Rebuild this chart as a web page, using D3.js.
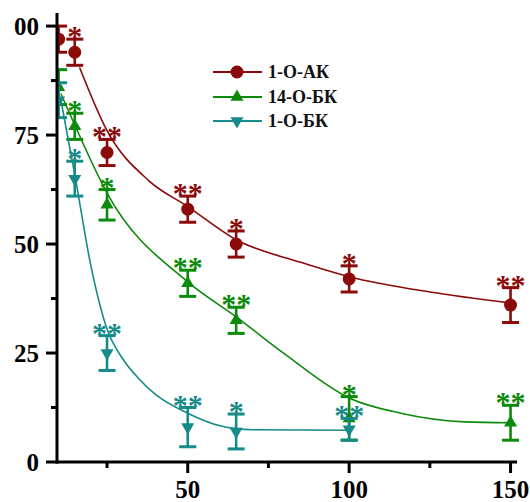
<!DOCTYPE html>
<html>
<head>
<meta charset="utf-8">
<script src="https://cdn.jsdelivr.net/npm/d3@7"></script>
<style>
  html, body { margin: 0; padding: 0; background: #fff; }
  svg { display: block; }
</style>
</head>
<body>
<svg id="chart" width="530" height="502"></svg>
<script>
// Concentrations (x) and survival values (y, %) with SD and significance marks
const doses = [10, 15, 25, 50, 65, 100, 150];

const akMean  = [97, 94, 71, 58, 50, 42, 36];
const akErr   = [3, 3, 3, 3, 3, 3, 4];
const akStars = ["", "*", "**", "**", "*", "*", "**"];

const bk14Mean  = [86, 77, 59, 41, 32.5, 10, 9];
const bk14Err   = [4, 3, 3.5, 3, 3, 5, 4];
const bk14Stars = ["", "*", "*", "**", "**", "*", "**"];

const bk1Doses = [10, 15, 25, 50, 65, 100];
const bk1Mean  = [83, 65, 25, 8, 7, 7.5];
const bk1Err   = [4, 4, 4, 4.5, 4, 2.5];
const bk1Stars = ["", "*", "**", "**", "*", "**"];

// Fitted decay curves (knots along each fit line)
const akFitX   = [16.5, 25, 38, 50, 65, 85, 100, 125, 150];
const akFitY   = [90.5, 76, 64.5, 58.6, 51, 45.8, 42.5, 39, 36.5];
const bk14FitX = [10.7, 15, 25, 50, 65, 80, 100, 116, 136, 150];
const bk14FitY = [84.5, 77.3, 61.7, 41.3, 33.3, 24.8, 14.7, 11.2, 9.2, 9.0];
const bk1FitX  = [10.7, 15, 20, 25, 30, 35, 40, 50, 60, 70, 100];
const bk1FitY  = [83, 66, 45, 30.5, 23.5, 19, 15.5, 11.2, 8.3, 7.4, 7.3];

const seriesNames = ["1-О-АК", "14-О-БК", "1-О-БК"];
const seriesColors = ["#8b0a0a", "#0b8a0b", "#178a8a"];

const xMajor = [50, 100, 150];
const xMinor = [25, 75, 125];
const yMajor = [0, 25, 50, 75, 100];
const yMinor = [12.5, 37.5, 62.5, 87.5];

const series = [
  { name: seriesNames[0], color: seriesColors[0], shape: "circle", xs: doses,    ys: akMean,   es: akErr,   stars: akStars,   fx: akFitX,   fy: akFitY },
  { name: seriesNames[1], color: seriesColors[1], shape: "up",     xs: doses,    ys: bk14Mean, es: bk14Err, stars: bk14Stars, fx: bk14FitX, fy: bk14FitY },
  { name: seriesNames[2], color: seriesColors[2], shape: "down",   xs: bk1Doses, ys: bk1Mean,  es: bk1Err,  stars: bk1Stars,  fx: bk1FitX,  fy: bk1FitY }
];

const svg = d3.select("#chart");
const x = d3.scaleLinear().domain([9.5, 152]).range([57, 517]);
const y = d3.scaleLinear().domain([0, 103]).range([462, 13]);
const serif = "'Liberation Serif', 'Times New Roman', serif";

const defs = svg.append("defs");
defs.append("clipPath").attr("id", "plotClip")
  .append("rect").attr("x", 57).attr("y", 0).attr("width", 473).attr("height", 462);
defs.append("clipPath").attr("id", "labelClip")
  .append("rect").attr("x", 13).attr("y", 0).attr("width", 60).attr("height", 502);

const triSize = 74;
function markerPath(shape) {
  if (shape === "circle") return d3.symbol(d3.symbolCircle, 132)();
  return d3.symbol(d3.symbolTriangle, triSize)();
}

const plot = svg.append("g").attr("clip-path", "url(#plotClip)");

series.forEach(s => {
  const g = plot.append("g");
  // fit line
  const line = d3.line().x(d => x(d[0])).y(d => y(d[1])).curve(d3.curveMonotoneX);
  g.append("path")
    .datum(s.fx.map((v, i) => [v, s.fy[i]]))
    .attr("d", line)
    .attr("fill", "none")
    .attr("stroke", s.color)
    .attr("stroke-width", 1.6);

  const pts = s.xs.map((v, i) => ({ x: v, y: s.ys[i], e: s.es[i], star: s.stars[i] }));

  // error bars
  const capW = 8.5;
  pts.forEach(p => {
    const cx = x(p.x), y1 = y(p.y + p.e), y0 = y(p.y - p.e);
    g.append("line").attr("x1", cx).attr("x2", cx).attr("y1", y1).attr("y2", y0)
      .attr("stroke", s.color).attr("stroke-width", 2.6);
    [y1, y0].forEach(yy => g.append("line")
      .attr("x1", cx - capW).attr("x2", cx + capW).attr("y1", yy).attr("y2", yy)
      .attr("stroke", s.color).attr("stroke-width", 3));
  });

  // markers
  g.selectAll("path.m").data(pts).join("path")
    .attr("class", "m")
    .attr("d", markerPath(s.shape))
    .attr("transform", d => `translate(${x(d.x)},${y(d.y)})` + (s.shape === "down" ? " rotate(180)" : ""))
    .attr("fill", s.color);

  // significance marks
  g.selectAll("text.star").data(pts.filter(p => p.star)).join("text")
    .attr("class", "star")
    .attr("x", d => x(d.x))
    .attr("y", d => y(d.y + d.e) + 7)
    .attr("text-anchor", "middle")
    .attr("font-family", serif)
    .attr("font-weight", "bold")
    .attr("font-size", 30)
    .attr("fill", s.color)
    .text(d => d.star);
});

// axes
const axes = svg.append("g").attr("stroke", "#000");
axes.append("line").attr("x1", 57).attr("x2", 57).attr("y1", 13).attr("y2", 463.5).attr("stroke-width", 3);
axes.append("line").attr("x1", 55.5).attr("x2", 517).attr("y1", 462).attr("y2", 462).attr("stroke-width", 3);
yMajor.forEach(v => axes.append("line").attr("x1", 46).attr("x2", 57).attr("y1", y(v)).attr("y2", y(v)).attr("stroke-width", 3));
yMinor.forEach(v => axes.append("line").attr("x1", 51).attr("x2", 57).attr("y1", y(v)).attr("y2", y(v)).attr("stroke-width", 3));
xMajor.forEach(v => axes.append("line").attr("x1", x(v)).attr("x2", x(v)).attr("y1", 462).attr("y2", 473).attr("stroke-width", 3));
xMinor.forEach(v => axes.append("line").attr("x1", x(v)).attr("x2", x(v)).attr("y1", 462).attr("y2", 468).attr("stroke-width", 3));

const yLabels = svg.append("g").attr("clip-path", "url(#labelClip)");
yLabels.selectAll("text").data(yMajor).join("text")
  .attr("x", 39).attr("y", d => y(d)).attr("dy", "0.34em")
  .attr("text-anchor", "end")
  .attr("font-family", serif).attr("font-weight", "bold").attr("font-size", 25)
  .text(d => d);

svg.append("g").selectAll("text").data(xMajor).join("text")
  .attr("x", d => x(d)).attr("y", 498)
  .attr("text-anchor", "middle")
  .attr("font-family", serif).attr("font-weight", "bold").attr("font-size", 25)
  .text(d => d);

// legend
const legendRows = [72, 97, 121];
const legend = svg.append("g");
series.forEach((s, i) => {
  const ly = legendRows[i];
  legend.append("line").attr("x1", 213).attr("x2", 262).attr("y1", ly).attr("y2", ly)
    .attr("stroke", s.color).attr("stroke-width", 2);
  legend.append("path").attr("d", markerPath(s.shape))
    .attr("transform", `translate(237,${ly})` + (s.shape === "down" ? " rotate(180)" : ""))
    .attr("fill", s.color);
  legend.append("text").attr("x", 268).attr("y", ly + 6)
    .attr("font-family", serif).attr("font-weight", "bold").attr("font-size", 18)
    .attr("fill", "#111")
    .text(s.name);
});
</script>
</body>
</html>
